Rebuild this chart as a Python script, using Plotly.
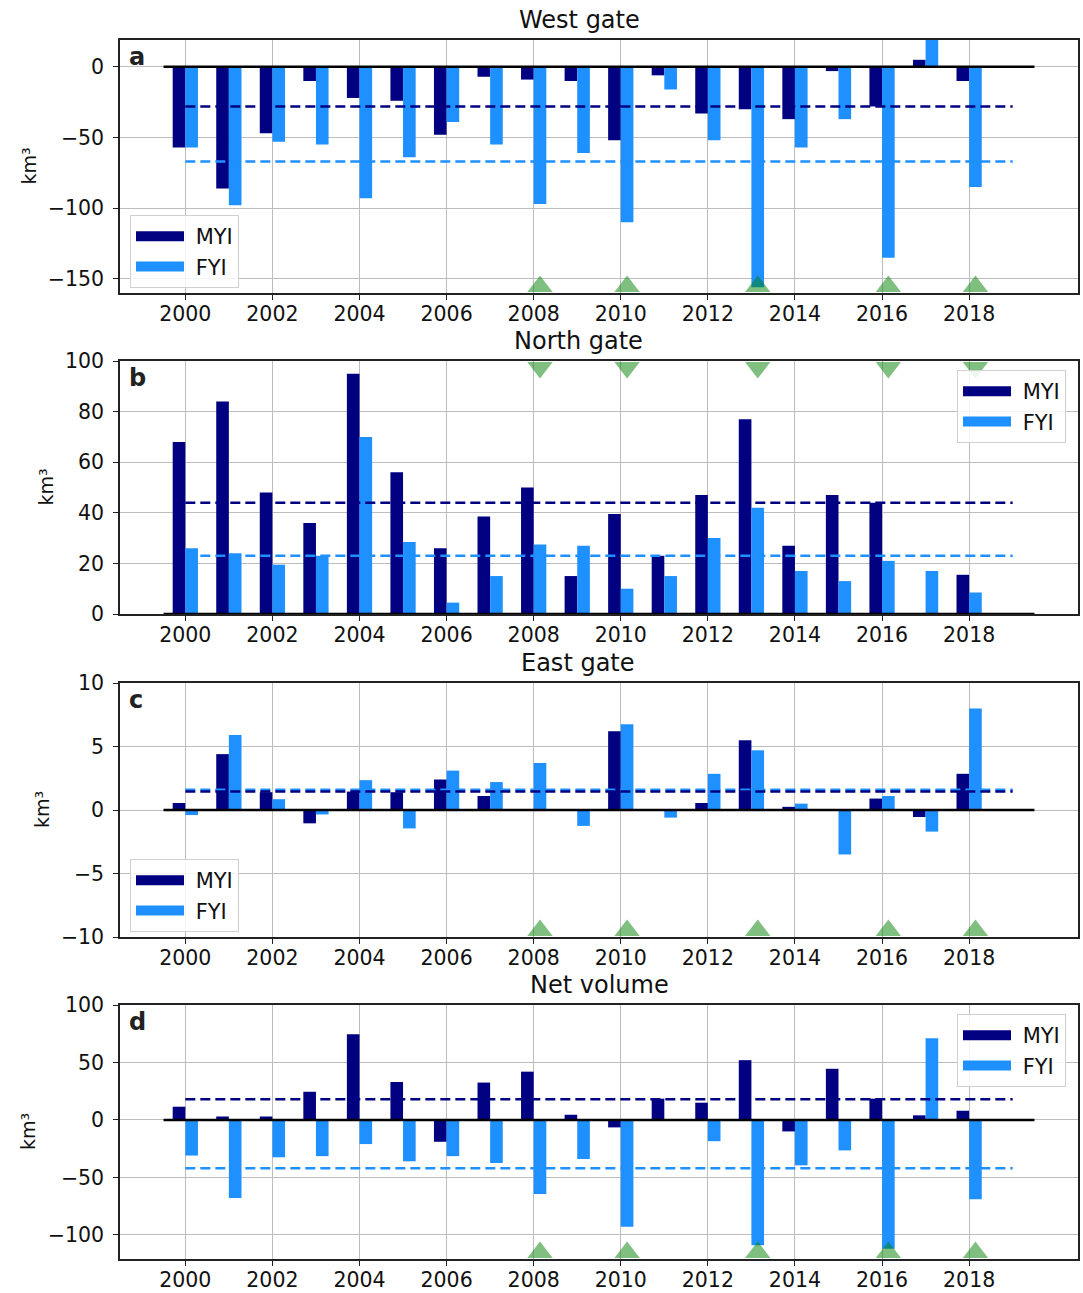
import plotly.graph_objects as go
from plotly.subplots import make_subplots

# ---------------- data ----------------
years = list(range(2000, 2019))
year_ticks = list(range(2000, 2019, 2))

west_myi = [-57, -86, -47, -10, -22, -24, -48, -7, -9, -10, -52, -6, -33, -30, -37, -3, -28, 5, -10]
west_fyi = [-57, -98, -53, -55, -93, -64, -39, -55, -97, -61, -110, -16, -52, -156, -57, -37, -135, 25, -85]
west_mean = [-28, -67]

north_myi = [68, 84, 48, 36, 95, 56, 26, 38.5, 50, 15, 39.5, 23, 47, 77, 27, 47, 44, 0, 15.5]
north_fyi = [26, 24, 19.5, 23, 70, 28.5, 4.5, 15, 27.5, 27, 10, 15, 30, 42, 17, 13, 21, 17, 8.5]
north_mean = [44, 23]

east_myi = [0.55, 4.4, 1.4, -1.05, 1.45, 1.4, 2.4, 1.1, 0, 0, 6.2, 0, 0.55, 5.5, 0.25, 0, 0.9, -0.55, 2.85]
east_fyi = [-0.4, 5.9, 0.85, -0.35, 2.35, -1.45, 3.1, 2.2, 3.7, -1.25, 6.75, -0.6, 2.85, 4.7, 0.5, -3.5, 1.1, -1.7, 8.0]
east_mean = [1.45, 1.6]

net_myi = [11.5, 3, 3, 24.5, 74.5, 33, -19, 32.5, 42, 4.5, -6.5, 18.5, 15, 52, -10, 44.5, 18.5, 4, 8]
net_fyi = [-31, -68, -32.5, -31.5, -21, -36, -31.5, -37.5, -64.5, -34, -93, 0, -18.5, -109, -39.5, -26.5, -112, 71, -69]
net_mean = [18, -42]

event_years = [2008, 2010, 2013, 2016, 2018]

titles = ["West gate", "North gate", "East gate", "Net volume"]
letters = ["a", "b", "c", "d"]
series_names = ["MYI", "FYI"]

# ---------------- style / layout ----------------
W, H = 1083, 1293
NAVY = "#000080"
DODGER = "#1E90FF"
TRI = "rgba(0,128,0,0.5)"
GRID = "#bdbdbd"
FONT = "DejaVu Sans"
BAR_W = 0.29
ZERO_X = [1999.5, 2019.5]
MEAN_X = [2000, 2019]
XRANGE = [1998.5, 2020.5]

box_left, box_right = 120, 1078
tops = [40, 361, 683, 1005]
bottoms = [293, 614, 937, 1259]

panels = [
    dict(myi=west_myi, fyi=west_fyi, mean=west_mean, rng=[-160, 19], dtick=50,
         tri="bottom", legend_pos="bl", title_x=579, ylab_x=28),
    dict(myi=north_myi, fyi=north_fyi, mean=north_mean, rng=[0, 100], dtick=20,
         tri="top", legend_pos="tr", title_x=578, ylab_x=45),
    dict(myi=east_myi, fyi=east_fyi, mean=east_mean, rng=[-10, 10], dtick=5,
         tri="bottom", legend_pos="bl", title_x=578, ylab_x=42),
    dict(myi=net_myi, fyi=net_fyi, mean=net_mean, rng=[-121, 100], dtick=50,
         tri="bottom", legend_pos="tr", title_x=599, ylab_x=28),
]

fig = make_subplots(rows=4, cols=1)
annotations = []
layout_upd = {}

for i, p in enumerate(panels):
    row = i + 1
    leg = "legend" if i == 0 else f"legend{i+1}"
    # bars
    fig.add_trace(go.Bar(x=years, y=p["myi"], width=BAR_W, offset=-BAR_W,
                         marker=dict(color=NAVY, line=dict(width=0)), showlegend=False), row=row, col=1)
    fig.add_trace(go.Bar(x=years, y=p["fyi"], width=BAR_W, offset=0,
                         marker=dict(color=DODGER, line=dict(width=0)), showlegend=False), row=row, col=1)
    # zero line
    fig.add_trace(go.Scatter(x=ZERO_X, y=[0, 0], mode="lines", line=dict(color="black", width=2.5),
                             showlegend=False, hoverinfo="skip"), row=row, col=1)
    # mean lines
    fig.add_trace(go.Scatter(x=MEAN_X, y=[p["mean"][1]] * 2, mode="lines",
                             line=dict(color=DODGER, width=2.5, dash="10px,5px"),
                             showlegend=False, hoverinfo="skip"), row=row, col=1)
    fig.add_trace(go.Scatter(x=MEAN_X, y=[p["mean"][0]] * 2, mode="lines",
                             line=dict(color=NAVY, width=2.5, dash="10px,5px"),
                             showlegend=False, hoverinfo="skip"), row=row, col=1)
    # event triangles
    lo, hi = p["rng"]
    if p["tri"] == "bottom":
        ty = lo + 0.026 * (hi - lo)
        sym = "triangle-up"
    else:
        ty = hi - 0.026 * (hi - lo)
        sym = "triangle-down"
    fig.add_trace(go.Scatter(x=[y + BAR_W / 2 for y in event_years], y=[ty] * len(event_years),
                             mode="markers", marker=dict(symbol=sym, size=22, color=TRI, line=dict(width=0)),
                             cliponaxis=False, showlegend=False, hoverinfo="skip"), row=row, col=1)
    # legend entries
    for name, col in zip(series_names, [NAVY, DODGER]):
        fig.add_trace(go.Scatter(x=[None], y=[None], mode="lines", name=" " + name,
                                 line=dict(color=col, width=14), legend=leg, showlegend=True,
                                 legendgroup=f"{leg}_{name}"),
                      row=row, col=1)

    xa = "xaxis" if i == 0 else f"xaxis{i+1}"
    ya = "yaxis" if i == 0 else f"yaxis{i+1}"
    ydom = [1 - bottoms[i] / H, 1 - tops[i] / H]
    common = dict(showgrid=True, gridcolor=GRID, gridwidth=1.3, zeroline=False, automargin=False,
                  showline=True, mirror=True, linecolor="#222", linewidth=1.5,
                  ticks="outside", ticklen=5, tickwidth=1.3, tickcolor="#222",
                  tickfont=dict(family=FONT, size=20.5, color="#111"))
    layout_upd[xa] = dict(domain=[box_left / W, box_right / W], range=XRANGE,
                          tickvals=year_ticks, ticklabelstandoff=-3, **common)
    layout_upd[ya] = dict(domain=ydom, range=p["rng"], dtick=p["dtick"], tick0=0,
                          ticklabelstandoff=5, **common)

    if p["legend_pos"] == "bl":
        lx, ly = 130 / W, 1 - (bottoms[i] - 78) / H
    else:
        lx, ly = 957 / W, 1 - (tops[i] + 9) / H
    layout_upd[leg] = dict(x=lx, y=ly, xanchor="left", yanchor="top",
                           bgcolor="rgba(255,255,255,0.85)", bordercolor="#d0d0d0", borderwidth=1,
                           font=dict(family=FONT, size=21, color="#111"), itemwidth=48,
                           tracegroupgap=0, traceorder="grouped")

    # title
    annotations.append(dict(text=titles[i], x=p["title_x"] / W, y=1 - (tops[i] - 4) / H,
                            xref="paper", yref="paper", xanchor="center", yanchor="bottom",
                            showarrow=False, font=dict(family=FONT, size=24, color="#111")))
    # panel letter
    annotations.append(dict(text="<b>" + letters[i] + "</b>", x=(box_left + 7) / W, y=1 - (tops[i] + 1) / H,
                            xref="paper", yref="paper", xanchor="left", yanchor="top",
                            showarrow=False, font=dict(family=FONT, size=24, color="#222")))
    # y label
    annotations.append(dict(text="km³", x=p["ylab_x"] / W, y=1 - (tops[i] + bottoms[i]) / 2 / H,
                            xref="paper", yref="paper", xanchor="center", yanchor="middle",
                            textangle=-90, showarrow=False,
                            font=dict(family=FONT, size=19, color="#111")))

fig.update_layout(**layout_upd)
fig.update_layout(width=W, height=H, margin=dict(l=0, r=0, t=0, b=0, autoexpand=False),
                  plot_bgcolor="white", paper_bgcolor="white", barmode="overlay",
                  annotations=annotations, font=dict(family=FONT))

fig.write_html("out.html", config={"displayModeBar": False},
               post_script="document.body.style.margin='0';")
